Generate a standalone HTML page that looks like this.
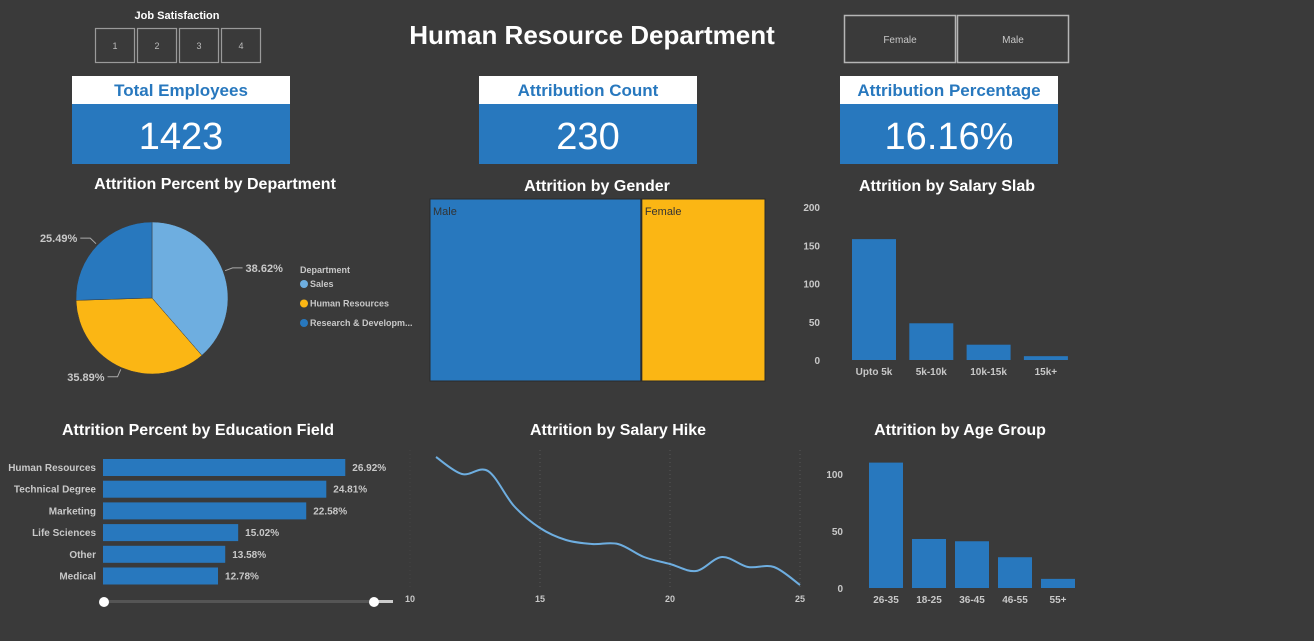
<!DOCTYPE html>
<html><head><meta charset="utf-8"><style>
html,body{margin:0;padding:0;background:#3a3a3a;width:1314px;height:641px;overflow:hidden;font-family:"Liberation Sans",sans-serif}
svg{display:block}
</style></head><body>
<svg id="dash" width="1314" height="641" xmlns="http://www.w3.org/2000/svg" font-family="Liberation Sans, sans-serif">
<rect width="1314" height="641" fill="#3a3a3a"/>
<text x="177" y="19" fill="#fff" font-size="11" font-weight="bold" text-anchor="middle">Job Satisfaction</text>
<g id="jsbtns"></g>
<text x="592" y="44" fill="#fff" font-size="26" font-weight="bold" text-anchor="middle">Human Resource Department</text>
<g><rect x="844.5" y="15.5" width="111" height="47" fill="none" stroke="#b5b5b5" stroke-width="1.5"/><text x="900" y="43" fill="#c8c8c8" font-size="10" text-anchor="middle">Female</text></g>
<g><rect x="957.5" y="15.5" width="111" height="47" fill="none" stroke="#b5b5b5" stroke-width="1.5"/><text x="1013" y="43" fill="#c8c8c8" font-size="10" text-anchor="middle">Male</text></g>
<g id="kpis"></g>
<text x="215" y="189" fill="#fff" font-size="16" font-weight="bold" text-anchor="middle">Attrition Percent by Department</text>
<text x="597" y="191" fill="#fff" font-size="16" font-weight="bold" text-anchor="middle">Attrition by Gender</text>
<text x="947" y="191" fill="#fff" font-size="16" font-weight="bold" text-anchor="middle">Attrition by Salary Slab</text>
<text x="198" y="435" fill="#fff" font-size="16" font-weight="bold" text-anchor="middle">Attrition Percent by Education Field</text>
<text x="618" y="435" fill="#fff" font-size="16" font-weight="bold" text-anchor="middle">Attrition by Salary Hike</text>
<text x="960" y="435" fill="#fff" font-size="16" font-weight="bold" text-anchor="middle">Attrition by Age Group</text>
<g id="pie"></g><g id="gender"></g><g id="slab"></g><g id="edu"></g><g id="hike"></g><g id="age"></g>
</svg>
<script>
const deptCats=["Sales","Human Resources","Research & Developm..."];
const deptVals=[38.62,35.89,25.49];
const genderCats=["Male","Female"];
const genderVals=[145,85];
const slabCats=["Upto 5k","5k-10k","10k-15k","15k+"];
const slabVals=[158,48,20,5];
const slabTicks=[0,50,100,150,200];
const eduCats=["Human Resources","Technical Degree","Marketing","Life Sciences","Other","Medical"];
const eduVals=[26.92,24.81,22.58,15.02,13.58,12.78];
const hikeX=[11,12,13,14,15,16,17,18,19,20,21,22,23,24,25];
const hikeVals=[133,116,119,84,62,50,46,46,33,26,19,33,23,23,5];
const hikeTicks=[10,15,20,25];
const ageCats=["26-35","18-25","36-45","46-55","55+"];
const ageVals=[110,43,41,27,8];
const ageTicks=[0,50,100];
const kpiTitles=["Total Employees","Attribution Count","Attribution Percentage"];
const kpiVals=["1423","230","16.16%"];

const NS="http://www.w3.org/2000/svg";
function mk(p,t,a,txt){const e=document.createElementNS(NS,t);for(const k in a)e.setAttribute(k,a[k]);if(txt!==undefined)e.textContent=txt;p.appendChild(e);return e;}
const BLUE="#2878be",YEL="#fbb614",LB="#6eaee0",LBL="#c8c8c8";

// job satisfaction buttons
const js=document.getElementById('jsbtns');
for(let i=0;i<4;i++){const g=mk(js,'g',{});


mk(g,'rect',{x:95.5+i*42,y:28.5,width:39,height:34,fill:'none',stroke:'#9a9a9a','stroke-width':1.2});
mk(g,'text',{x:115+i*42,y:49,fill:'#bbb','font-size':9,'text-anchor':'middle'},String(i+1));}

// KPI cards
const kp=document.getElementById('kpis');const kx=[72,479,840];
kpiTitles.forEach((t,i)=>{const g=mk(kp,'g',{});


mk(g,'rect',{x:kx[i],y:76,width:218,height:28,fill:'#fff'});
mk(g,'rect',{x:kx[i],y:104,width:218,height:60,fill:BLUE});
mk(g,'text',{x:kx[i]+109,y:96,fill:BLUE,'font-size':17,'font-weight':'bold','text-anchor':'middle'},t);
mk(g,'text',{x:kx[i]+109,y:149,fill:'#fff','font-size':38,'text-anchor':'middle'},kpiVals[i]);});

// pie
const pie=document.getElementById('pie');const cx=152,cy=298,R=76;const pcols=[LB,YEL,BLUE];
const tot=deptVals.reduce((a,b)=>a+b,0);let ang=0;
deptVals.forEach((v,i)=>{const a0=ang,a1=ang+v/tot*2*Math.PI;ang=a1;
const p=(a,r)=>[cx+r*Math.sin(a),cy-r*Math.cos(a)];const s=p(a0,R),e=p(a1,R);
const sl=mk(pie,'path',{d:`M${cx},${cy}L${s[0]},${s[1]}A${R},${R} 0 ${a1-a0>Math.PI?1:0} 1 ${e[0]},${e[1]}Z`,fill:pcols[i],stroke:'#3a3a3a','stroke-width':0.5});


const m=(a0+a1)/2;const q=p(m,R+2),o=p(m,R+10);const right=Math.sin(m)>0;
const lx=right?o[0]+10:o[0]-10;
mk(pie,'path',{d:`M${q[0]},${q[1]}L${o[0]},${o[1]}L${lx},${o[1]}`,stroke:'#aaa',fill:'none','stroke-width':1});
const lt=mk(pie,'text',{x:right?lx+3:lx-3,y:o[1]+4,fill:LBL,'font-size':11,'font-weight':'bold','text-anchor':right?'start':'end'},v.toFixed(2)+'%');

});
mk(pie,'text',{x:300,y:273,fill:LBL,'font-size':9,'font-weight':'bold'},'Department');
deptCats.forEach((c,i)=>{const g=mk(pie,'g',{});


mk(g,'circle',{cx:304,cy:284+i*19.5,r:4,fill:pcols[i]});
mk(g,'text',{x:310,y:287+i*19.5,fill:LBL,'font-size':9,'font-weight':'bold'},c);});

// gender treemap
const gd=document.getElementById('gender');const gx0=430,gw=336,gtot=genderVals.reduce((a,b)=>a+b,0);let gx=gx0;
genderCats.forEach((c,i)=>{const w=genderVals[i]/gtot*gw;
const r=mk(gd,'rect',{x:gx,y:199,width:w-1,height:182,fill:i?YEL:BLUE,stroke:'#2a2a2a','stroke-width':1});


mk(gd,'text',{x:gx+3,y:215,fill:'#333','font-size':11},c);gx+=w;});

// vertical bar helper
function vbars(id,cats,vals,ticks,base,pxPer,x0,step,bw,tickX,name){const g=document.getElementById(id);
ticks.forEach(t=>{mk(g,'text',{x:tickX,y:base-t*pxPer+4,fill:LBL,'font-size':10,'font-weight':'bold','text-anchor':'end'},String(t));});
cats.forEach((c,i)=>{const h=vals[i]*pxPer;const x=x0+i*step;
const r=mk(g,'rect',{x:x,y:base-h,width:bw,height:h,fill:BLUE});


mk(g,'text',{x:x+bw/2,y:base+15,fill:LBL,'font-size':10,'font-weight':'bold','text-anchor':'middle'},c);});}
vbars('slab',slabCats,slabVals,slabTicks,360,153/200,852,57.3,44,820,'salary-slab');
vbars('age',ageCats,ageVals,ageTicks,588,1.14,869,43,34,843,'age-group');

// education horizontal bars
const ed=document.getElementById('edu');
eduCats.forEach((c,i)=>{const y=459+i*21.7;const w=eduVals[i]*9.0;
mk(ed,'text',{x:96,y:y+12,fill:LBL,'font-size':10,'font-weight':'bold','text-anchor':'end'},c);
const r=mk(ed,'rect',{x:103,y:y,width:w,height:17,fill:BLUE});


mk(ed,'text',{x:103+w+7,y:y+12,fill:LBL,'font-size':10,'font-weight':'bold'},eduVals[i].toFixed(2)+'%');});
mk(ed,'rect',{x:103,y:600,width:290,height:3,fill:'#555'});
mk(ed,'rect',{x:378,y:600,width:15,height:3,fill:'#ccc'});
const h1=mk(ed,'circle',{cx:104,cy:602,r:5,fill:'#fff'});


const h2=mk(ed,'circle',{cx:374,cy:602,r:5,fill:'#fff'});



// salary hike line
const hk=document.getElementById('hike');
const hxs=v=>410+(v-10)*26, hys=v=>590-v*1.0;
hikeTicks.forEach(t=>{const x=hxs(t);
if(t>10)mk(hk,'line',{x1:x,y1:450,x2:x,y2:588,stroke:'#555','stroke-dasharray':'1,3'});
else mk(hk,'line',{x1:x,y1:450,x2:x,y2:588,stroke:'#444','stroke-dasharray':'1,3'});
mk(hk,'text',{x:x,y:602,fill:LBL,'font-size':9,'font-weight':'bold','text-anchor':'middle'},String(t));});
const pts=hikeX.map((x,i)=>[hxs(x),hys(hikeVals[i])]);
let d=`M${pts[0][0]},${pts[0][1]}`;
for(let i=0;i<pts.length-1;i++){const p0=pts[i-1]||pts[i],p1=pts[i],p2=pts[i+1],p3=pts[i+2]||p2;
const c1=[p1[0]+(p2[0]-p0[0])/6,p1[1]+(p2[1]-p0[1])/6],c2=[p2[0]-(p3[0]-p1[0])/6,p2[1]-(p3[1]-p1[1])/6];
d+=`C${c1[0]},${c1[1]} ${c2[0]},${c2[1]} ${p2[0]},${p2[1]}`;}
const ln=mk(hk,'path',{d:d,fill:'none',stroke:LB,'stroke-width':2});


</script>
</body></html>
